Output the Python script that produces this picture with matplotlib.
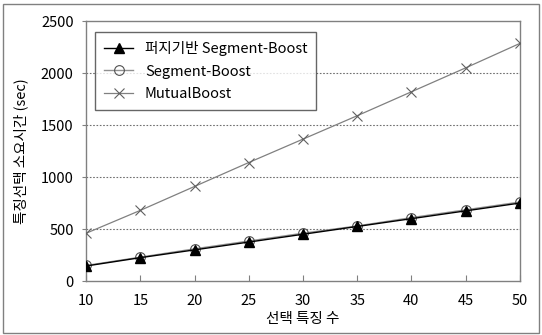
import matplotlib
matplotlib.use("Agg")
import matplotlib.pyplot as plt
from matplotlib.patches import Rectangle

plt.rcParams["font.family"] = ["Noto Sans CJK KR", "DejaVu Sans"]

features = [10, 15, 20, 25, 30, 35, 40, 45, 50]
fuzzy_seg = [145, 225, 300, 375, 450, 525, 600, 675, 750]
seg_boost = [150, 230, 310, 385, 460, 530, 610, 685, 760]
mutual = [460, 680, 910, 1140, 1365, 1590, 1820, 2050, 2285]

fig = plt.figure(figsize=(5.42, 3.35), dpi=100)
fig.patch.set_facecolor("white")
# thin gray frame around the whole figure
fig.patches.append(Rectangle((0.006, 0.006), 0.988, 0.982, transform=fig.transFigure,
                             fill=False, edgecolor="#808080", linewidth=1.0))
ax = fig.add_axes([0.159, 0.161, 0.800, 0.776])

ax.plot(features, mutual, color="#808080", lw=0.9, marker="x", ms=7,
        mew=0.8, mec="#606060", label="MutualBoost", zorder=3)
ax.plot(features, seg_boost, color="#909090", lw=1.0, marker="o", ms=7,
        mfc="none", mec="#505050", mew=0.8, label="Segment-Boost", zorder=4)
ax.plot(features, fuzzy_seg, color="black", lw=1.0, marker="^", ms=7,
        mfc="black", mec="black", label="퍼지기반 Segment-Boost", zorder=5)

ax.set_xlim(10, 50)
ax.set_ylim(0, 2500)
ax.set_xticks(features)
ax.set_yticks(range(0, 2501, 500))
for y in (500, 1000, 1500, 2000):
    ax.axhline(y, color="#707070", lw=0.8, ls=(0, (1.5, 1.5)), zorder=1)

for s in ax.spines.values():
    s.set_color("#808080")
    s.set_linewidth(1.0)
ax.tick_params(axis="x", direction="in", length=4, color="#808080",
               labelsize=10.5, pad=9)
ax.tick_params(axis="y", direction="out", length=3, color="#808080",
               labelsize=10.5, pad=6)

ax.set_xlabel("선택 특징 수", fontsize=10.5, labelpad=3)
ax.set_ylabel("특징선택 소요시간 (sec)", fontsize=10.5, labelpad=9)

handles, labels = ax.get_legend_handles_labels()
order = [2, 1, 0]
leg = ax.legend([handles[i] for i in order], [labels[i] for i in order],
                loc="upper left", bbox_to_anchor=(0.021, 0.958), fontsize=10.5,
                frameon=True, fancybox=False, shadow=False, borderpad=0.6,
                borderaxespad=0, handlelength=2.0, labelspacing=0.6)
leg.get_frame().set_edgecolor("#404040")
leg.get_frame().set_linewidth(1.0)

fig.savefig("out.png", dpi=100, facecolor="white")
